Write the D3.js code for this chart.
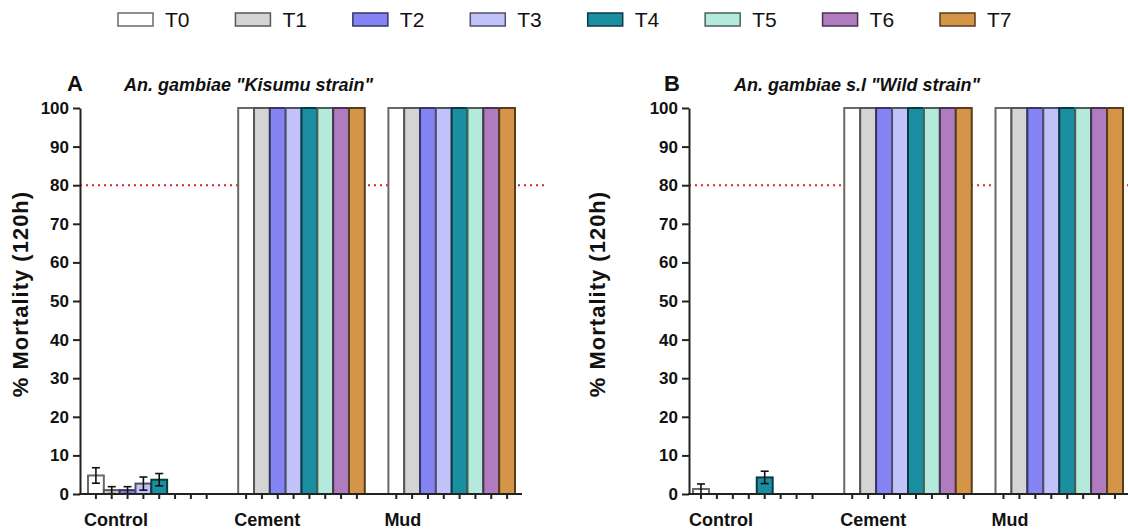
<!DOCTYPE html>
<html>
<head>
<meta charset="utf-8">
<script src="https://cdn.jsdelivr.net/npm/d3@7"></script>
<style>
  body { margin: 0; background: #fff; }
  svg { font-family: "Liberation Sans", Arial, sans-serif; }
</style>
</head>
<body>
<div id="chart-container"></div>
<script>
// data
var series = ["T0", "T1", "T2", "T3", "T4", "T5", "T6", "T7"];
var groups = ["Control", "Cement", "Mud"];
var colors = ["#ffffff", "#d4d4d4", "#8484f4", "#c2c2fb", "#1b8fa2", "#b4eadb", "#b07cc0", "#d49548"];
var yTicks = [0, 10, 20, 30, 40, 50, 60, 70, 80, 90, 100];
var threshold = 80;

// panel A: An. gambiae "Kisumu strain"
var kisumuControl = [4.8, 1.0, 1.0, 2.7, 3.7, 0, 0, 0];
var kisumuControlErr = [2.0, 0.9, 0.9, 1.7, 1.6, 0, 0, 0];
var kisumuCement = [100, 100, 100, 100, 100, 100, 100, 100];
var kisumuMud = [100, 100, 100, 100, 100, 100, 100, 100];

// panel B: An. gambiae s.l "Wild strain"
var wildControl = [1.3, 0, 0, 0, 4.3, 0, 0, 0];
var wildControlErr = [1.3, 0, 0, 0, 1.6, 0, 0, 0];
var wildCement = [100, 100, 100, 100, 100, 100, 100, 100];
var wildMud = [100, 100, 100, 100, 100, 100, 100, 100];

var noErr = [0, 0, 0, 0, 0, 0, 0, 0];

var width = 1128, height = 529;
var svg = d3.select('#chart-container')
            .append('svg')
            .attr('width', width)
            .attr('height', height);

var color = d3.scaleOrdinal().domain(series).range(colors);
function edge(c) { return d3.color(c).darker(2.5); }

// legend
var legendX = d3.scalePoint().domain(series).range([118, 940]);
var legend = svg.selectAll('g.legend')
     .data(series)
     .enter()
     .append('g')
       .attr('class', 'legend')
       .attr('transform', function(d) { return 'translate(' + legendX(d) + ',13)'; });
legend.append('rect')
     .attr('width', 35)
     .attr('height', 13)
     .attr('fill', function(d) { return color(d); })
     .attr('stroke', function(d) { return edge(color(d)); })
     .attr('stroke-width', 1.5);
legend.append('text')
     .attr('x', 47)
     .attr('y', 14)
     .attr('font-size', 21)
     .attr('fill', '#111')
     .text(function(d) { return d; });

function panel(opt) {
  var g = svg.append('g');
  var y = d3.scaleLinear().domain([0, 100]).range([494, 108]);
  var x0 = d3.scaleBand().domain(groups).range(opt.band).paddingInner(0.157).paddingOuter(0);
  var x1 = d3.scaleBand().domain(series).range([0, x0.bandwidth()]);
  function cx(d) { return x0(d.group) + x1(d.series) + x1.bandwidth() / 2; }

  var rows = [];
  groups.forEach(function(grp, gi) {
    series.forEach(function(s, si) {
      rows.push({ group: grp, series: s, value: opt.values[gi][si], err: opt.errs[gi][si] });
    });
  });

  // threshold line
  g.append('line')
     .attr('x1', opt.axisX)
     .attr('x2', opt.lineEnd)
     .attr('y1', y(threshold))
     .attr('y2', y(threshold))
     .attr('stroke', '#d8242a')
     .attr('stroke-width', 2)
     .attr('stroke-dasharray', '2,4');

  // bars
  g.selectAll('rect.bar')
     .data(rows.filter(function(d) { return d.value > 0; }))
     .enter()
     .append('rect')
       .attr('class', 'bar')
       .attr('x', function(d) { return x0(d.group) + x1(d.series); })
       .attr('y', function(d) { return y(d.value); })
       .attr('width', x1.bandwidth())
       .attr('height', function(d) { return y(0) - y(d.value); })
       .attr('fill', function(d) { return color(d.series); })
       .attr('stroke', function(d) { return edge(color(d.series)); })
       .attr('stroke-width', 2);

  // error bars
  var eb = rows.filter(function(d) { return d.err > 0; });
  g.selectAll('line.err')
     .data(eb)
     .enter()
     .append('line')
       .attr('x1', cx)
       .attr('x2', cx)
       .attr('y1', function(d) { return y(d.value - d.err); })
       .attr('y2', function(d) { return y(d.value + d.err); })
       .attr('stroke', '#111')
       .attr('stroke-width', 1.6);
  g.selectAll('line.capTop')
     .data(eb)
     .enter()
     .append('line')
       .attr('x1', function(d) { return cx(d) - 4; })
       .attr('x2', function(d) { return cx(d) + 4; })
       .attr('y1', function(d) { return y(d.value + d.err); })
       .attr('y2', function(d) { return y(d.value + d.err); })
       .attr('stroke', '#111')
       .attr('stroke-width', 1.6);
  g.selectAll('line.capBot')
     .data(eb)
     .enter()
     .append('line')
       .attr('x1', function(d) { return cx(d) - 4; })
       .attr('x2', function(d) { return cx(d) + 4; })
       .attr('y1', function(d) { return y(Math.max(0, d.value - d.err)); })
       .attr('y2', function(d) { return y(Math.max(0, d.value - d.err)); })
       .attr('stroke', '#111')
       .attr('stroke-width', 1.6);

  // y axis
  var yAxis = g.append('g')
     .attr('transform', 'translate(' + opt.axisX + ',0)')
     .call(d3.axisLeft(y).tickValues(yTicks).tickSize(7).tickSizeOuter(0));
  yAxis.select('.domain').attr('stroke', '#222').attr('stroke-width', 2);
  yAxis.selectAll('.tick line').attr('stroke', '#222').attr('stroke-width', 2);
  yAxis.selectAll('.tick text')
     .attr('font-size', 17)
     .attr('font-weight', 'bold')
     .attr('fill', '#111')
     .attr('x', -11)
     .attr('font-family', '"Liberation Sans", Arial, sans-serif');

  // x axis baseline with ticks under each bar
  g.append('line')
     .attr('x1', opt.axisX - 1)
     .attr('x2', opt.axisEnd)
     .attr('y1', y(0))
     .attr('y2', y(0))
     .attr('stroke', '#222')
     .attr('stroke-width', 2);
  g.selectAll('line.xtick')
     .data(rows)
     .enter()
     .append('line')
       .attr('x1', cx)
       .attr('x2', cx)
       .attr('y1', y(0))
       .attr('y2', y(0) + 5)
       .attr('stroke', '#222')
       .attr('stroke-width', 2);

  g.selectAll('text.group')
     .data(groups)
     .enter()
     .append('text')
       .attr('x', function(d) { return x0(d) - 4; })
       .attr('y', 526)
       .attr('font-size', 18)
       .attr('font-weight', 'bold')
       .attr('fill', '#111')
       .text(function(d) { return d; });

  // y title
  g.append('text')
     .attr('transform', 'translate(' + opt.titleX + ',294) rotate(-90)')
     .attr('text-anchor', 'middle')
     .attr('font-size', 22)
     .attr('font-weight', 'bold')
     .attr('letter-spacing', 1)
     .attr('fill', '#111')
     .text('% Mortality (120h)');

  // panel letter and title
  g.append('text')
     .attr('x', opt.letterX)
     .attr('y', 91)
     .attr('font-size', 22)
     .attr('font-weight', 'bold')
     .attr('fill', '#111')
     .text(opt.letter);
  g.append('text')
     .attr('x', opt.subX)
     .attr('y', 91)
     .attr('font-size', 18)
     .attr('font-weight', 'bold')
     .attr('font-style', 'italic')
     .attr('fill', '#111')
     .text(opt.title);
}

panel({
  letter: 'A', letterX: 67, subX: 124, title: 'An. gambiae "Kisumu strain"',
  axisX: 80, axisEnd: 522, lineEnd: 546, band: [88, 515], titleX: 28,
  values: [kisumuControl, kisumuCement, kisumuMud],
  errs: [kisumuControlErr, noErr, noErr]
});
panel({
  letter: 'B', letterX: 664, subX: 734, title: 'An. gambiae s.l "Wild strain"',
  axisX: 689, axisEnd: 1128, lineEnd: 1128, band: [693, 1123], titleX: 605,
  values: [wildControl, wildCement, wildMud],
  errs: [wildControlErr, noErr, noErr]
});
</script>
</body>
</html>
